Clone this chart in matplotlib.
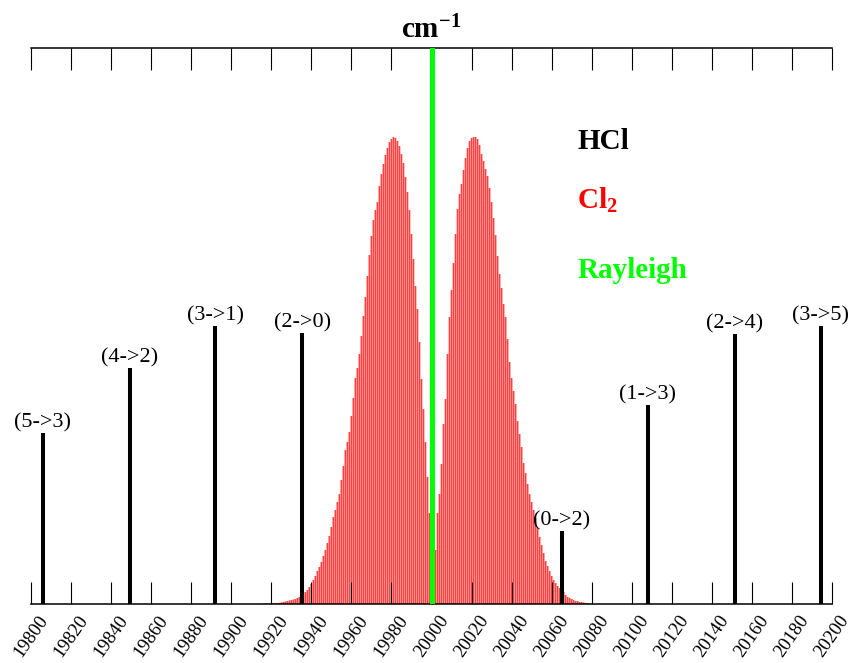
import matplotlib.pyplot as plt
import numpy as np

# HCl rotational Raman lines
hcl_x = [19805.8, 19849.2, 19892, 19935.5, 20065, 20108, 20151.5, 20194.5]
hcl_y = [171, 236, 278, 271, 73, 199, 270, 278]
hcl_labels = ['(5->3)', '(4->2)', '(3->1)', '(2->0)', '(0->2)', '(1->3)', '(2->4)', '(3->5)']

# Cl2 lines, one per cm-1
cl2_left_start, cl2_left_stop = 19916, 19999
cl2_left = [0.3, 0.4, 0.5, 0.6, 0.7, 0.8, 0.9, 1.0, 1.2, 1.6,
            2, 2.5, 3, 3.5, 4, 4.5, 5, 6, 7, 8.5,
            10, 12, 14, 17, 20,
            24, 28, 33, 37, 42, 48, 54, 61, 68, 77,
            87, 94, 102, 110, 124, 138, 154, 162, 172, 188,
            206, 226, 236, 250, 268, 288, 307, 328, 349, 368,
            384, 394, 402, 418, 430, 440, 449, 456, 462, 465,
            467, 466, 463, 458, 450, 441, 427, 412, 394, 370,
            345, 318, 295, 262, 225, 195, 162, 127, 91]
cl2_right_start, cl2_right_stop = 20001, 20080
cl2_right = [19, 54, 91, 110, 140, 180, 205, 250, 287, 314,
             341, 370, 395, 410, 420, 434, 446, 456, 463, 466,
             467, 467, 465, 459, 450, 443, 435, 428, 416, 402,
             386, 369, 348, 330, 316, 300, 287, 265, 242, 226,
             213, 200, 183, 170, 157, 141, 131, 120, 110, 102,
             94, 86, 76, 67, 59, 51, 43, 38, 33, 28,
             24, 21, 18, 16, 14, 12, 9, 7, 6, 5,
             4, 3, 3, 2, 2, 1.5, 1, 1, 0.5, 0.3]

rayleigh_x = 20000
xticks = list(range(19800, 20201, 20))

plt.rcParams['font.family'] = 'Liberation Serif'
plt.rcParams['mathtext.fontset'] = 'custom'
plt.rcParams['mathtext.rm'] = 'Liberation Serif'
plt.rcParams['mathtext.bf'] = 'Liberation Serif:bold'

fig = plt.figure(figsize=(8.51, 6.63), dpi=100)
ax = fig.add_axes([31 / 851, 59 / 663, 801 / 851, 556 / 663])

left_x = np.arange(cl2_left_start, cl2_left_stop + 1)
right_x = np.arange(cl2_right_start, cl2_right_stop + 1)
for xs, hs in [(left_x, cl2_left), (right_x, cl2_right)]:
    bars = ax.bar(xs, hs, width=0.85, color='#ff4040', linewidth=0, zorder=1)
    for b in bars:
        b.set_snap(False)

ax.vlines(hcl_x, 0, hcl_y, color='black', lw=2.9, zorder=3)
for x, y, lab in zip(hcl_x, hcl_y, hcl_labels):
    ax.annotate(lab, (x, y), xytext=(0, 0.5), textcoords='offset points',
                ha='center', va='bottom', fontsize=16)

ax.axvline(rayleigh_x, color='#00ff00', lw=3.6, zorder=4)

ax.set_xlim(19800, 20200)
ax.set_ylim(0, 556)
ax.set_xticks(xticks)
ax.set_yticks([])
ax.tick_params(axis='x', direction='in', length=16, width=0.8, top=True,
               labeltop=False, labelsize=13.5, pad=6)
plt.setp(ax.get_xticklabels(), rotation=55)
for s in ['left', 'right']:
    ax.spines[s].set_visible(False)
for s in ['top', 'bottom']:
    ax.spines[s].set_linewidth(1.1)

ax.text(0.5, 1.018, r'$\mathbf{cm^{-1}}$', transform=ax.transAxes,
        ha='center', va='baseline', fontsize=21)
ax.text(0.682, 0.818, 'HCl', transform=ax.transAxes, color='black',
        fontsize=21, fontweight='bold', va='baseline')
ax.text(0.682, 0.710, r'$\mathbf{Cl_2}$', transform=ax.transAxes, color='red',
        fontsize=21, va='baseline')
ax.text(0.682, 0.586, 'Rayleigh', transform=ax.transAxes, color='#00ff00',
        fontsize=21, fontweight='bold', va='baseline')

fig.savefig('out.png', dpi=100)
